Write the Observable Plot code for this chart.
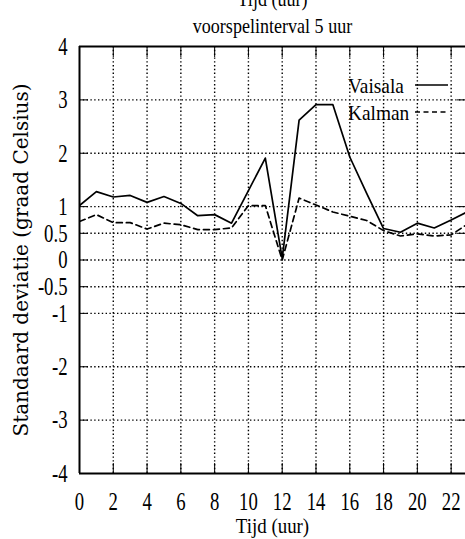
<!DOCTYPE html>
<html>
<head>
<meta charset="utf-8">
<script src="https://cdn.jsdelivr.net/npm/d3@7"></script>
<script src="https://cdn.jsdelivr.net/npm/@observablehq/plot@0.6"></script>
<style>
  html, body { margin: 0; padding: 0; background: #fff; }
  #chart svg { display: block; }
  #chart svg text { font-family: "Liberation Serif", serif !important; }
  #chart svg text.ylab { font-family: "DejaVu Serif", serif !important; }
</style>
</head>
<body>
<div id="chart"></div>
<script>
// Hour of day (forecast interval 5 hours)
const hours = [0, 1, 2, 3, 4, 5, 6, 7, 8, 9, 10, 11, 12, 13, 14, 15, 16, 17, 18, 19, 20, 21, 22, 23];
// Standard deviation (degrees Celsius) per hour
const vaisala = [1.02, 1.28, 1.18, 1.21, 1.08, 1.19, 1.06, 0.83, 0.85, 0.69, 1.30, 1.91, 0.03, 2.62, 2.91, 2.91, 1.93, 1.25, 0.59, 0.52, 0.69, 0.60, 0.75, 0.91];
const kalman  = [0.72, 0.85, 0.70, 0.70, 0.58, 0.69, 0.66, 0.57, 0.57, 0.60, 1.02, 1.02, 0.00, 1.16, 1.03, 0.90, 0.82, 0.74, 0.55, 0.45, 0.49, 0.45, 0.47, 0.68];

const seriesNames = ["Vaisala", "Kalman"];
const xTickLabels = [0, 2, 4, 6, 8, 10, 12, 14, 16, 18, 20, 22];
const xGridLines = [2, 4, 6, 8, 10, 12, 14, 16, 18, 20, 22];
const yTickLabels = [-4, -3, -2, -1, -0.5, 0, 0.5, 1, 2, 3, 4];
const yGridLines = [-3, -2, -1, -0.5, 0, 0.5, 1, 2, 3];

const titleTop = "Tijd (uur)";
const title = "voorspelinterval 5 uur";
const xLabel = "Tijd (uur)";
const yLabel = "Standaard deviatie (graad Celsius)";

const vaisalaRows = hours.map((h, i) => ({hour: h, value: vaisala[i]}));
const kalmanRows = hours.map((h, i) => ({hour: h, value: kalman[i]}));

const dotted = {stroke: "#000", strokeOpacity: 1, strokeWidth: 1.4, strokeDasharray: "1.4,2.4"};

// Legend drawn in the upper right of the frame
function legend(index, scales, values, dim) {
  const g = d3.create("svg:g");
  const right = dim.width - dim.marginRight;
  const top = dim.marginTop;
  const rows = [
    {name: seriesNames[0], dash: null, base: 47, line: 39},
    {name: seriesNames[1], dash: "5,3.5", base: 73.5, line: 66}
  ];
  for (const r of rows) {
    g.append("text")
      .attr("font-size", 22)
      .attr("text-anchor", "start")
      .attr("fill", "#000")
      .attr("transform", `translate(${right - 117},${top + r.base}) scale(0.88,1)`)
      .text(r.name);
    g.append("line")
      .attr("x1", right - 50).attr("x2", right - 17)
      .attr("y1", top + r.line).attr("y2", top + r.line)
      .attr("stroke", "#000").attr("stroke-width", 1.6)
      .attr("stroke-dasharray", r.dash);
  }
  return g.node();
}

const chart = Plot.plot({
  width: 465,
  height: 539,
  marginTop: 46,
  marginBottom: 66,
  marginLeft: 79,
  marginRight: 0,
  style: {background: "#fff", color: "#000"},
  x: {domain: [0, 22.85]},
  y: {domain: [-4, 4]},
  marks: [
    Plot.gridX(xGridLines, dotted),
    Plot.gridY(yGridLines, dotted),
    // frame: left, bottom, top
    Plot.ruleX([0], {strokeWidth: 2}),
    Plot.ruleY([-4, 4], {strokeWidth: 2}),
    // inward tick marks on all sides
    Plot.axisY({ticks: yTickLabels, anchor: "left", tickSize: -9, tickPadding: 21, fontSize: 26, label: null, tickFormat: d => String(d)}),
    Plot.axisY({ticks: yTickLabels, anchor: "right", tickSize: -9, label: null, tickFormat: () => ""}),
    Plot.axisX({ticks: xTickLabels, anchor: "bottom", tickSize: -10, tickPadding: 28.5, fontSize: 26, label: null, tickFormat: d => String(d)}),
    Plot.axisX({ticks: xGridLines, anchor: "top", tickSize: -10, label: null, tickFormat: () => ""}),
    // series
    Plot.line(vaisalaRows, {x: "hour", y: "value", stroke: "#000", strokeWidth: 1.7, clip: true}),
    Plot.line(kalmanRows, {x: "hour", y: "value", stroke: "#000", strokeWidth: 1.7, strokeDasharray: "6,4", clip: true}),
    // titles
    Plot.text([titleTop], {frameAnchor: "top", dy: -41, lineAnchor: "bottom", fontSize: 21}),
    Plot.text([title], {frameAnchor: "top", dy: -14, lineAnchor: "bottom", fontSize: 21}),
    Plot.text([xLabel], {frameAnchor: "bottom", dy: 59, lineAnchor: "bottom", fontSize: 22}),
    Plot.text([yLabel], {frameAnchor: "left", dx: -58, rotate: -90, textAnchor: "middle", fontSize: 20}),
    legend
  ]
});

// Narrow the Times-style lettering horizontally; the rotated axis title keeps its own face
const svg = d3.select(chart);
svg.selectAll("g[aria-label='x-axis tick label'] text, g[aria-label='y-axis tick label'] text")
  .attr("data-narrow", "tick");
svg.selectAll("g[aria-label='text'] text").each(function () {
  const t = this.getAttribute("transform") || "";
  if (t.includes("rotate")) { this.classList.add("ylab"); return; }
  this.setAttribute("transform", t + " scale(0.86,1)");
});
svg.selectAll("text[data-narrow='tick']").each(function () {
  const t = this.getAttribute("transform") || "";
  this.setAttribute("transform", t + " scale(0.72,1)");
});

document.getElementById("chart").appendChild(chart);
</script>
</body>
</html>
